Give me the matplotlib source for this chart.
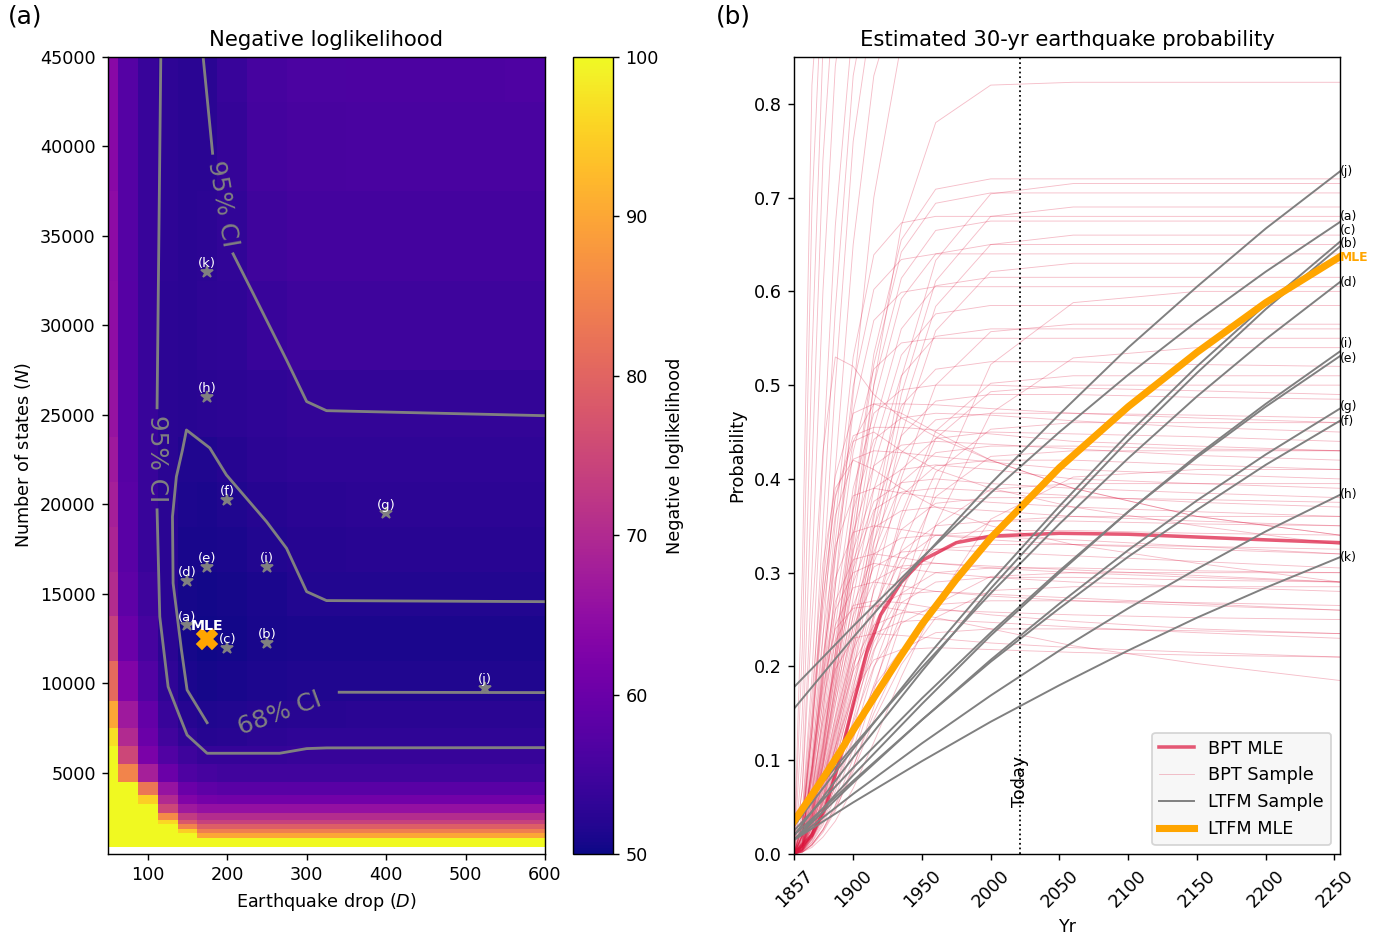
import numpy as np
import matplotlib.pyplot as plt

# === Panel (a): negative loglikelihood grid ===
drop_d = [50, 75, 100, 125, 150, 175, 200, 250, 300, 400, 500, 600]
states_n = [1000, 1250, 1500, 1750, 2000, 2250, 2500, 3000, 3500, 4000, 5000, 6000, 7000,
            8000, 10000, 12500, 15000, 17500, 20000, 22500, 25000, 30000, 35000, 40000, 45000]
nll = [
    [110, 110, 110, 110, 110, 110, 110, 110, 110, 110, 110, 110],
    [110, 110, 110, 110, 110, 102, 102, 102, 102, 102, 102, 102],
    [110, 110, 110, 110, 104, 90, 90, 90, 90, 90, 90, 90],
    [110, 110, 110, 110, 95, 84, 84, 84, 84, 84, 84, 84],
    [110, 110, 110, 105, 85, 79, 79, 79, 79, 79, 79, 79],
    [110, 110, 110, 96, 78, 74, 74, 74, 74, 74, 74, 74],
    [110, 110, 110, 86, 73, 70.5, 70.5, 70.5, 70.5, 70.5, 70.5, 70.5],
    [110, 110, 105, 75, 67, 65.5, 65.5, 65.5, 65.5, 65.5, 65.5, 65.5],
    [110, 110, 95, 70, 63, 61.5, 61, 61, 61, 61, 61, 61],
    [110, 102, 83, 66, 60, 58.5, 58, 58, 58, 58, 58, 58],
    [110, 85, 68, 60, 56.5, 55.5, 55, 55, 55, 55, 55, 55],
    [105, 75, 62, 57, 54.5, 53.7, 53.7, 53.7, 53.9, 53.9, 53.9, 53.9],
    [97, 70, 60, 55, 53, 52, 52.3, 52.6, 53, 53, 53, 53],
    [90, 67, 59, 54, 52, 51.5, 51.7, 52, 52.3, 52.4, 52.4, 52.4],
    [81, 63, 57, 53, 51, 50.7, 50.9, 51.2, 51.5, 51.5, 51.5, 51.5],
    [74, 60, 55.5, 52.5, 50.6, 50.3, 50.5, 50.8, 51.1, 51.1, 51.1, 51.1],
    [70.5, 58.5, 54.5, 52.5, 50.7, 50.5, 50.7, 51.1, 51.7, 51.7, 51.7, 51.7],
    [69, 58, 54, 52.5, 50.9, 50.8, 51, 51.6, 52.1, 52.2, 52.2, 52.2],
    [68, 58, 54, 52.5, 51.2, 51.1, 51.4, 52, 52.5, 52.6, 52.6, 52.6],
    [67, 57.5, 54, 52.5, 51.5, 51.5, 52, 52.6, 53, 53.1, 53.1, 53.1],
    [66, 57.5, 54, 52.5, 52.2, 52.5, 52.6, 53.1, 53.5, 53.5, 53.5, 53.5],
    [65, 57.5, 54, 52.7, 52.5, 52.8, 53, 54, 54.5, 54.6, 54.6, 54.6],
    [64.5, 57.3, 54, 52.8, 52.5, 52.6, 53.3, 54.8, 55.3, 55.4, 55.4, 55.4],
    [64, 57.3, 54, 52.8, 52.5, 52.5, 53.6, 55.3, 55.8, 55.9, 56, 56],
    [64, 57.3, 54, 52.8, 52.5, 52.5, 54, 55.6, 56.2, 56.3, 56.4, 56.5],
]

# confidence contours (D, N), split where the inline labels sit
ci95_segments = [
    ([116.4, 111.7], [45000, 25400]),
    ([111.7, 115.1, 125.6, 140.3, 149.5, 174.7, 266, 300, 325, 600],
     [19700, 13730, 9820, 8150, 7120, 6100, 6100, 6360, 6400, 6415]),
    ([169.7, 181.6], [45000, 39620]),
    ([207.4, 232.5, 274.7, 300, 325, 600], [34000, 31800, 28070, 25750, 25240, 24960]),
]
ci68_segments = [
    ([174.7, 149.5, 142.4, 131.9, 131.1, 136, 143.7, 148.7, 178, 199, 249.5, 274.7, 300, 325, 600],
     [7810, 9640, 11870, 15600, 19320, 21550, 23050, 24160, 23160, 21650, 19040, 17550, 15130, 14630, 14570]),
    ([341, 600], [9510, 9490]),
]

sample_labels = ['(a)', '(b)', '(c)', '(d)', '(e)', '(f)', '(g)', '(h)', '(i)', '(j)', '(k)']
sample_d = [150, 250, 200, 150, 175, 200, 400, 175, 250, 525, 175]
sample_n = [13250, 12250, 12000, 15750, 16500, 20250, 19500, 26000, 16500, 9750, 33000]
mle_d, mle_n = 175, 12500

# === Panel (b): 30-yr probabilities ===
bpt_years = [1857, 1863, 1870, 1878, 1887, 1900, 1915, 1935, 1960, 2000, 2060, 2150, 2254]
bpt_samples = [
    # steep samples leaving the top of the axes
    [0, .30, .82, .99, 1, 1, 1, 1, 1, 1, 1, 1, 1],
    [0, .22, .69, .95, 1, 1, 1, 1, 1, 1, 1, 1, 1],
    [0, .15, .53, .86, .98, 1, 1, 1, 1, 1, 1, 1, 1],
    [0, .10, .41, .74, .94, 1, 1, 1, 1, 1, 1, 1, 1],
    [0, .07, .30, .60, .84, .98, 1, 1, 1, 1, 1, 1, 1],
    [0, .045, .19, .42, .67, .89, .97, .98, .98, .98, .98, .98, .98],
    [0, .034, .15, .35, .58, .83, .95, .99, .99, .99, .99, .99, .99],
    [0, .03, .13, .29, .50, .76, .91, .96, .97, .97, .97, .97, .97],
    [0, .02, .095, .23, .41, .65, .83, .93, .95, .95, .95, .95, .95],
    [0, .013, .062, .15, .285, .49, .70, .865, .936, .95, .95, .95, .95],
    [0, .008, .038, .095, .18, .33, .50, .67, .78, .82, .823, .823, .823],
    # samples with a plateau inside the axes
    [0, .01, .047, .115, .216, .374, .533, .655, .709, .72, .72, .72, .72],
    [0, .005, .024, .061, .122, .222, .358, .508, .633, .704, .715, .715, .715],
    [0, .01, .046, .113, .212, .367, .522, .642, .694, .705, .705, .705, .705],
    [0, .005, .023, .059, .117, .214, .345, .49, .611, .68, .69, .69, .69],
    [0, .02, .088, .204, .354, .53, .639, .673, .68, .68, .68, .68, .68],
    [0, .009, .044, .108, .203, .351, .5, .614, .665, .675, .675, .675, .675],
    [0, .005, .022, .057, .112, .205, .33, .469, .584, .65, .66, .66, .66],
    [0, .009, .042, .104, .195, .338, .481, .592, .64, .65, .65, .65, .65],
    [0, .019, .083, .192, .333, .499, .602, .634, .64, .64, .64, .64, .64],
    [0, .004, .021, .054, .107, .195, .315, .447, .558, .621, .63, .63, .63],
    [0, .009, .04, .098, .185, .32, .455, .56, .606, .615, .615, .615, .615],
    [0, .018, .079, .182, .315, .472, .569, .599, .605, .605, .605, .605, .605],
    [0, .002, .01, .026, .052, .102, .174, .276, .39, .522, .588, .60, .60],
    [0, .008, .038, .094, .176, .304, .433, .532, .576, .585, .585, .585, .585],
    [0, .004, .019, .049, .096, .175, .283, .401, .5, .557, .565, .565, .565],
    [0, .008, .036, .09, .168, .291, .414, .51, .552, .56, .56, .56, .56],
    [0, .017, .072, .165, .286, .429, .517, .545, .55, .55, .55, .55, .55],
    [0, .002, .009, .023, .046, .092, .157, .248, .351, .47, .529, .54, .54],
    [0, .007, .034, .084, .158, .273, .389, .478, .517, .525, .525, .522, .52],
    [0, .004, .017, .044, .087, .158, .255, .362, .451, .502, .51, .51, .51],
    [0, .004, .017, .043, .085, .155, .25, .355, .443, .493, .50, .50, .50],
    [0, .015, .065, .15, .26, .39, .47, .495, .50, .50, .497, .494, .49],
    [0, .007, .032, .078, .147, .255, .363, .446, .483, .49, .49, .487, .485],
    [0, .034, .144, .288, .403, .47, .48, .48, .479, .475, .47, .465, .46],
    [0, .007, .031, .075, .141, .244, .348, .428, .463, .47, .47, .468, .465],
    [0, .014, .061, .141, .244, .367, .442, .465, .47, .468, .462, .455, .45],
    [0, .003, .016, .04, .078, .143, .23, .327, .407, .453, .46, .46, .46],
    [0, .032, .137, .273, .382, .446, .455, .455, .452, .448, .44, .435, .43],
    [0, .006, .029, .072, .135, .234, .333, .41, .443, .45, .448, .445, .44],
    [0, .013, .057, .132, .229, .343, .414, .436, .44, .437, .432, .425, .42],
    [0, .006, .028, .07, .131, .226, .322, .396, .428, .435, .435, .432, .43],
    [0, .003, .015, .037, .073, .133, .215, .305, .381, .424, .43, .43, .43],
    [0, .03, .129, .258, .361, .421, .43, .428, .424, .418, .41, .405, .40],
    [0, .006, .027, .067, .126, .218, .311, .382, .414, .42, .42, .415, .41],
    [0, .012, .054, .125, .216, .324, .39, .41, .415, .41, .40, .395, .39],
    [0, .002, .007, .018, .035, .07, .119, .189, .267, .357, .402, .41, .41],
    [0, .012, .052, .12, .208, .312, .376, .396, .40, .395, .39, .385, .38],
    [0, .003, .013, .034, .067, .122, .198, .28, .35, .389, .395, .395, .395],
    [0, .027, .117, .234, .328, .382, .39, .385, .38, .375, .37, .365, .36],
    [0, .012, .051, .117, .203, .304, .367, .386, .39, .387, .382, .375, .37],
    [0, .005, .025, .061, .114, .198, .281, .346, .374, .38, .38, .378, .375],
    [0, .011, .048, .111, .192, .289, .348, .366, .37, .366, .36, .355, .35],
    [0, .003, .012, .031, .061, .112, .18, .256, .319, .355, .36, .36, .36],
    [0, .005, .023, .057, .107, .185, .263, .323, .35, .355, .355, .352, .35],
    [0, .025, .105, .21, .294, .343, .35, .346, .34, .335, .33, .325, .32],
    [0, .005, .022, .055, .104, .179, .255, .314, .34, .345, .345, .342, .34],
    [0, .01, .044, .102, .177, .265, .32, .337, .34, .338, .335, .328, .32],
    [0, .005, .021, .053, .099, .172, .244, .30, .325, .33, .33, .328, .325],
    [0, .01, .042, .098, .169, .254, .306, .322, .325, .322, .318, .312, .305],
    [0, .022, .096, .192, .269, .314, .32, .316, .31, .305, .30, .295, .29],
    [0, .022, .093, .186, .26, .30, .31, .305, .30, .295, .29, .285, .28],
    [0, .009, .04, .093, .161, .242, .291, .307, .31, .307, .303, .297, .29],
    [0, .004, .02, .049, .092, .159, .226, .278, .30, .305, .305, .302, .30],
    [0, .002, .01, .026, .051, .093, .15, .213, .266, .296, .30, .30, .30],
    [0, .004, .019, .047, .089, .153, .218, .268, .29, .295, .295, .292, .29],
    [0, .002, .01, .025, .048, .088, .143, .202, .252, .281, .285, .285, .285],
    [0, .02, .087, .174, .244, .284, .29, .286, .28, .275, .27, .265, .26],
    [0, .008, .036, .084, .146, .218, .263, .277, .28, .277, .273, .267, .26],
    [0, .004, .018, .043, .081, .14, .20, .246, .266, .27, .27, .268, .265],
    [0, .019, .081, .162, .227, .265, .27, .268, .262, .255, .248, .24, .235],
    [0, .008, .034, .078, .135, .203, .244, .257, .26, .258, .255, .252, .25],
    [0, .02, .09, .18, .24, .262, .265, .26, .252, .24, .222, .203, .185],
    [0, .008, .033, .075, .13, .195, .235, .248, .25, .247, .242, .236, .23],
    [0, .003, .016, .038, .072, .125, .178, .218, .236, .24, .24, .238, .235],
    [0, .016, .07, .141, .197, .23, .235, .233, .23, .225, .22, .215, .21],
    [0, .007, .029, .066, .114, .172, .207, .218, .22, .218, .215, .212, .21],
    # samples that peak early and then decline
    [0, .07, .25, .43, .53, .52, .49, .465, .445, .42, .39, .36, .34],
    [0, .02, .09, .20, .32, .44, .48, .47, .45, .42, .39, .36, .34],
    [0, .03, .13, .27, .38, .44, .45, .43, .41, .39, .37, .35, .33],
    [0, .04, .17, .31, .39, .42, .41, .39, .37, .35, .33, .31, .29],
]

mle_years = [1857, 1870, 1880, 1890, 1900, 1910, 1920, 1935, 1950, 1975, 2000, 2050, 2100, 2150, 2200, 2254]
bpt_mle = [0, .02, .05, .10, .16, .215, .255, .29, .313, .332, .339, .342, .341, .338, .335, .332]
ltfm_mle = [.035, .063, .085, .108, .132, .155, .178, .212, .245, .293, .337, .412, .477, .535, .588, .637]

ltfm_years = [1857, 1900, 1950, 2000, 2050, 2100, 2150, 2200, 2254]
ltfm_samples = {
    '(j)': [.155, .231, .315, .395, .469, .540, .605, .667, .728],
    '(a)': [.178, .243, .316, .385, .450, .511, .568, .621, .674],
    '(c)': [.03, .112, .204, .290, .371, .448, .520, .586, .653],
    '(b)': [.02, .103, .195, .283, .364, .441, .513, .581, .648],
    '(d)': [.04, .115, .199, .278, .352, .422, .488, .549, .610],
    '(i)': [.015, .084, .160, .233, .300, .365, .425, .480, .536],
    '(e)': [.025, .092, .166, .236, .302, .365, .423, .477, .531],
    '(g)': [.015, .076, .143, .207, .267, .324, .377, .426, .475],
    '(f)': [.02, .078, .143, .205, .262, .317, .367, .415, .462],
    '(h)': [.015, .064, .118, .169, .217, .262, .304, .344, .383],
    '(k)': [.015, .055, .099, .141, .180, .217, .252, .284, .3165],
}
end_label_y = {'(j)': .728, '(a)': .680, '(c)': .665, '(b)': .651, '(d)': .610, '(i)': .544,
               '(e)': .528, '(g)': .477, '(f)': .461, '(h)': .383, '(k)': .3165}
mle_label_y = .636
today = 2021
year_ticks = [1857, 1900, 1950, 2000, 2050, 2100, 2150, 2200, 2250]

# === Figure ===
fig = plt.figure(figsize=(1387 / 127, 934 / 127), dpi=127)
ax1 = fig.add_axes([0.0779, 0.0857, 0.3150, 0.8533])
cax = fig.add_axes([0.4131, 0.0857, 0.0289, 0.8533])
ax2 = fig.add_axes([0.5725, 0.0857, 0.3936, 0.8533])

# --- (a) heatmap ---
mesh = ax1.pcolormesh(drop_d, states_n, np.array(nll), shading='nearest',
                      cmap='plasma', vmin=50, vmax=100)
for d, n in ci95_segments + ci68_segments:
    ax1.plot(d, n, color='gray', lw=1.6)
ax1.text(112, 22550, '95% CI', color='gray', fontsize=14, rotation=-90,
         ha='center', va='center')
ax1.text(194, 36800, '95% CI', color='gray', fontsize=14, rotation=-80,
         ha='center', va='center')
ax1.text(266, 8350, '68% CI', color='gray', fontsize=14, rotation=20,
         ha='center', va='center')

ax1.plot(sample_d, sample_n, '*', color='gray', ms=7, ls='none')
for lbl, d, n in zip(sample_labels, sample_d, sample_n):
    ax1.annotate(lbl, (d, n), xytext=(0, 1), textcoords='offset points',
                 ha='center', va='bottom', color='white', fontsize=7.5)
ax1.plot(mle_d, mle_n, 'X', color='orange', ms=11)
ax1.annotate('MLE', (mle_d, mle_n), xytext=(0, 3), textcoords='offset points',
             ha='center', va='bottom', color='white', fontsize=8, fontweight='bold')

ax1.set_xlim(50, 600)
ax1.set_ylim(475, 45000)
ax1.set_yticks(range(5000, 45001, 5000))
ax1.set_xlabel('Earthquake drop ($D$)')
ax1.set_ylabel('Number of states ($N$)')
ax1.set_title('Negative loglikelihood')

cbar = fig.colorbar(mesh, cax=cax)
cbar.set_label('Negative loglikelihood')

# --- (b) probabilities ---
ax2.plot(mle_years, bpt_mle, color='crimson', alpha=0.7, lw=2, label='BPT MLE')
for i, row in enumerate(bpt_samples):
    ax2.plot(bpt_years, row, color='crimson', alpha=0.28, lw=0.5,
             label='BPT Sample' if i == 0 else None)
for i, (lbl, vals) in enumerate(ltfm_samples.items()):
    ax2.plot(ltfm_years, vals, color='gray', lw=1.1,
             label='LTFM Sample' if i == 0 else None)
    ax2.text(ltfm_years[-1], end_label_y[lbl], lbl, ha='left', va='center',
             fontsize=7, clip_on=False)
ax2.plot(mle_years, ltfm_mle, color='orange', lw=4, label='LTFM MLE')
ax2.text(mle_years[-1], mle_label_y, 'MLE', color='orange', fontweight='bold',
         ha='left', va='center', fontsize=7, clip_on=False)

ax2.axvline(today, color='black', ls=':', lw=1)
ax2.text(today, 0.05, 'Today', rotation=90, ha='center', va='bottom')

ax2.set_xlim(1857, 2254)
ax2.set_ylim(0, 0.85)
ax2.set_xticks(year_ticks)
ax2.tick_params(axis='x', labelrotation=45)
ax2.set_xlabel('Yr')
ax2.set_ylabel('Probability')
ax2.set_title('Estimated 30-yr earthquake probability')
ax2.legend(loc='lower right', facecolor='#f5f5f5')

fig.text(0.0058, 0.995, '(a)', fontsize=14, va='top', ha='left')
fig.text(0.516, 0.995, '(b)', fontsize=14, va='top', ha='left')

fig.savefig('out.png', dpi=127)
